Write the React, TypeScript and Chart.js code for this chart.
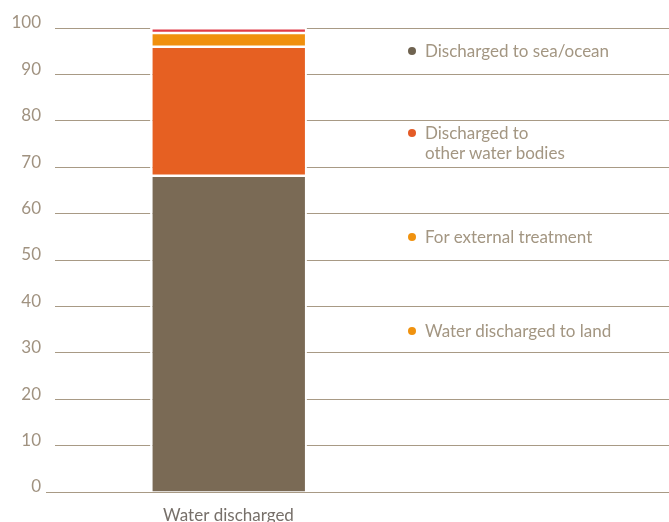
import React, { useEffect, useRef } from 'react';
import { Chart, registerables } from 'chart.js';
Chart.register(...registerables);

const categories = ['Water discharged'];
const seaOcean = [68.2];
const otherWaterBodies = [27.8];
const externalTreatment = [3.0];
const dischargedToLand = [1.0];
const legendLabels = ['Discharged to sea/ocean', 'Discharged to\nother water bodies', 'For external treatment', 'Water discharged to land'];
const barColors = ['#7A6A55', '#E66022', '#F0900E', '#E03A48'];
const legendDotColors = ['#6F6350', '#E45B27', '#F0920F', '#F0920F'];

const GRID = '#A89A85';
const TICK = '#A09280';
const FONT = 'Lato, "Open Sans", sans-serif';

const align = (p: number) => Math.round(p - 0.5) + 0.5;

export default function App() {
  const ref = useRef<HTMLCanvasElement>(null);
  useEffect(() => {
    if (!ref.current) return;
    const extendGrid = {
      id: 'extendGrid',
      beforeDatasetsDraw(chart: any) {
        const { ctx, chartArea, scales } = chart;
        const y = scales.y;
        ctx.save();
        ctx.strokeStyle = GRID;
        ctx.lineWidth = 1;
        y.ticks.forEach((t: any) => {
          const py = align(y.getPixelForValue(t.value));
          ctx.beginPath();
          ctx.moveTo(chartArea.right - 1, py);
          ctx.lineTo(chart.width, py);
          ctx.stroke();
        });
        const p0 = align(y.getPixelForValue(0));
        ctx.beginPath();
        ctx.moveTo(chartArea.left - 9, p0);
        ctx.lineTo(chartArea.left + 1, p0);
        ctx.stroke();
        ctx.restore();
      },
    };
    const series = [seaOcean, otherWaterBodies, externalTreatment, dischargedToLand];
    const chart = new Chart(ref.current, {
      type: 'bar',
      data: {
        labels: categories,
        datasets: series.map((d, i) => ({
          label: legendLabels[i].replace('\n', ' '),
          data: d,
          backgroundColor: barColors[i],
          borderColor: '#FFFFFF',
          borderWidth: i === 0 ? { top: 1.5, left: 2.5, right: 2, bottom: 0 } : { top: 1.5, left: 2.5, right: 2, bottom: 1 },
          borderSkipped: i === 0 ? 'start' : false,
          categoryPercentage: 1,
          barPercentage: 0.452,
        })),
      },
      options: {
        animation: false,
        responsive: false,
        maintainAspectRatio: false,
        layout: { padding: { top: 28, right: 267, left: 0, bottom: 0 } },
        plugins: { legend: { display: false }, tooltip: { enabled: false } },
        scales: {
          x: {
            stacked: true,
            grid: { display: false },
            border: { display: false },
            ticks: { color: '#77706A', font: { family: FONT, size: 17 }, padding: 5 },
            afterFit: (s: any) => { s.height = 30; },
          },
          y: {
            stacked: true,
            min: 0,
            max: 100,
            ticks: { stepSize: 10, color: TICK, font: { family: FONT, size: 17 }, padding: 14, labelOffset: -5 },
            grid: { color: GRID, lineWidth: 1, drawTicks: false },
            border: { display: false },
            afterFit: (s: any) => { s.width = 55; },
          },
        },
      },
      plugins: [extendGrid],
    });
    return () => chart.destroy();
  }, []);

  const legendTops = [41, 123, 227, 321];
  return (
    <div style={{ position: 'absolute', left: 0, top: 0, width: 669, height: 522, overflow: 'hidden', background: '#fff' }}>
      <canvas ref={ref} width={669} height={522} style={{ display: 'block', width: 669, height: 522 }} />
      {legendLabels.map((lab, i) => (
        <div key={i} style={{ position: 'absolute', left: 408, top: legendTops[i], fontFamily: FONT, fontSize: 17, lineHeight: '20px', color: '#A39682', whiteSpace: 'pre' }}>
          <span style={{ position: 'absolute', left: 0, top: 6, width: 8, height: 8, borderRadius: '50%', background: legendDotColors[i] }} />
          <div style={{ marginLeft: 17 }}>{lab}</div>
        </div>
      ))}
    </div>
  );
}
